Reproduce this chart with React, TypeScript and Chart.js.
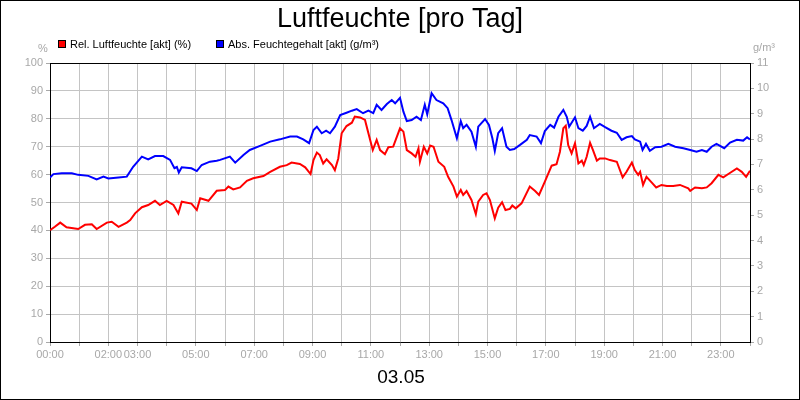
import { useEffect, useRef } from "react";
import { Chart, registerables } from "chart.js";

Chart.register(...registerables);

// minutes since midnight -> value
const relTimes = [
  0, 10, 21, 34, 58, 72, 86, 96, 117, 127, 141, 158, 165, 175, 189, 202, 216, 226, 240, 254, 264, 271,
  291, 302, 309, 326, 343, 360, 367, 377, 391, 405, 418, 439, 453, 473, 487, 497, 514, 525, 536, 542,
  549, 555, 562, 569, 580, 586, 593, 600, 610, 621, 627, 638, 648, 655, 664, 672, 679, 689, 696, 706,
  720, 727, 734, 744, 752, 758, 761, 769, 776, 782, 789, 799, 811, 819, 830, 837, 845, 850, 857, 867,
  876, 881, 891, 898, 905, 915, 922, 930, 937, 946, 951, 958, 970, 987, 998, 1006, 1018, 1032, 1042,
  1049, 1056, 1061, 1066, 1073, 1080, 1087, 1094, 1098, 1104, 1111, 1117, 1125, 1131, 1142, 1152,
  1166, 1178, 1186, 1197, 1203, 1210, 1214, 1220, 1227, 1238, 1247, 1258, 1269, 1282, 1296, 1313,
  1317, 1327, 1341, 1351, 1361, 1375, 1385, 1397, 1413, 1423, 1432, 1440,
];
const relHumidity = [
  40.1, 41.3, 42.8, 41.1, 40.5, 42, 42.2, 40.5, 42.8, 43.1, 41.3, 42.8, 43.7, 46.1, 48.3, 49.1, 50.6,
  49.1, 50.6, 49.1, 46.1, 50.3, 49.6, 47.3, 51.5, 50.6, 54.2, 54.5, 55.7, 54.7, 55.4, 57.8, 58.7, 59.5,
  61.0, 62.8, 63.4, 64.3, 63.8, 62.6, 60.2, 65.2, 67.9, 67.0, 64.0, 65.5, 63.4, 61.6, 65.8, 74.8, 77.4,
  78.6, 80.8, 80.5, 79.6, 74.8, 68.8, 72.4, 68.8, 67.3, 69.8, 70.0, 76.6, 75.4, 68.8, 67.6, 66.4, 69.4,
  64.6, 70.0, 67.6, 70.4, 70.0, 64.6, 62.8, 59.2, 55.7, 52.1, 54.5, 52.7, 54.1, 50.9, 45.8, 50.3, 52.7,
  53.3, 50.9, 44.3, 48.1, 50.1, 47.3, 47.7, 48.9, 47.9, 49.7, 55.7, 54.1, 52.7, 57.5, 63.2, 63.7, 68.2,
  76.6, 77.5, 70.6, 67.6, 71.2, 64.0, 65.0, 63.4, 66.4, 71.4, 68.8, 65.0, 65.8, 65.8, 65.2, 64.6, 59.0,
  61.0, 64.3, 61.6, 59.9, 61.0, 56.3, 59.2, 57.1, 55.4, 56.3, 55.9, 55.9, 56.3, 55.1, 54.2, 55.4, 55.1,
  55.4, 56.9, 59.9, 59.0, 60.4, 62.2, 61.0, 59.2, 61.4,
];

const absTimes = [
  0, 7, 24, 45, 58, 79, 96, 110, 120, 141, 158, 171, 189, 202, 216, 233, 247, 256, 261, 265, 271, 291,
  302, 312, 329, 343, 350, 370, 381, 398, 411, 432, 453, 473, 494, 508, 521, 533, 542, 549, 559, 568,
  576, 586, 597, 610, 621, 631, 644, 655, 665, 672, 682, 693, 703, 710, 720, 727, 734, 744, 754, 763,
  771, 776, 785, 795, 809, 818, 826, 837, 845, 850, 857, 867, 876, 881, 895, 903, 910, 915, 922, 930,
  939, 946, 955, 967, 981, 987, 1001, 1010, 1018, 1029, 1037, 1046, 1056, 1063, 1068, 1080, 1087,
  1096, 1104, 1111, 1119, 1131, 1142, 1155, 1166, 1176, 1186, 1197, 1203, 1214, 1219, 1226, 1234,
  1245, 1258, 1272, 1286, 1303, 1317, 1330, 1341, 1351, 1361, 1371, 1387, 1399, 1413, 1426, 1434, 1440,
];
const absHumidity = [
  6.48, 6.62, 6.65, 6.65, 6.59, 6.55, 6.41, 6.52, 6.45, 6.49, 6.52, 6.91, 7.31, 7.2, 7.33, 7.33, 7.18,
  6.85, 6.9, 6.68, 6.89, 6.85, 6.74, 6.98, 7.11, 7.15, 7.18, 7.31, 7.07, 7.37, 7.57, 7.73, 7.9, 7.99,
  8.1, 8.1, 7.99, 7.84, 8.36, 8.49, 8.23, 8.33, 8.23, 8.49, 8.95, 9.04, 9.12, 9.18, 9.02, 9.12, 9.02,
  9.35, 9.15, 9.38, 9.54, 9.41, 9.63, 9.08, 8.71, 8.75, 8.88, 8.75, 9.35, 8.98, 9.81, 9.54, 9.41, 9.22,
  8.75, 8.03, 8.71, 8.43, 8.56, 8.29, 7.7, 8.49, 8.79, 8.56, 8.03, 7.53, 8.23, 8.43, 7.7, 7.57, 7.61,
  7.77, 7.97, 8.16, 8.1, 7.84, 8.32, 8.56, 8.45, 8.88, 9.15, 8.88, 8.49, 8.86, 8.43, 8.33, 8.52, 8.88,
  8.43, 8.6, 8.47, 8.33, 8.25, 7.97, 8.07, 8.12, 7.99, 7.9, 7.57, 7.81, 7.54, 7.68, 7.7, 7.81, 7.7,
  7.64, 7.57, 7.5, 7.57, 7.5, 7.7, 7.81, 7.64, 7.86, 7.97, 7.94, 8.07, 7.99,
];

const xTickLabels = ["00:00", "02:00", "03:00", "05:00", "07:00", "09:00", "11:00", "13:00", "15:00", "17:00", "19:00", "21:00", "23:00"];
const seriesLabels = ["Rel. Luftfeuchte [akt] (%)", "Abs. Feuchtegehalt [akt] (g/m³)"];
const seriesColors = ["#ff0000", "#0000ff"];
const titleText = "Luftfeuchte [pro Tag]";
const dateText = "03.05";

const FONT = "'Liberation Sans', Arial, sans-serif";
const TICK_GRAY = "#a8a8a8";
const GRID_GRAY = "#c4c4c4";

const decor = {
  id: "decor",
  afterDraw(chart: Chart) {
    const ctx = chart.ctx;
    const { left, right, top, bottom } = chart.chartArea;
    ctx.save();
    // plot frame
    ctx.strokeStyle = "#000";
    ctx.lineWidth = 1;
    ctx.beginPath();
    ctx.moveTo(left, top + 0.5);
    ctx.lineTo(right, top + 0.5);
    ctx.stroke();
    // outer frame
    ctx.strokeRect(0.5, 0.5, chart.width - 1, chart.height - 1);

    ctx.fillStyle = "#000";
    ctx.textBaseline = "alphabetic";
    ctx.textAlign = "center";
    ctx.font = `27px ${FONT}`;
    ctx.fillText(titleText, 400, 27);
    ctx.font = `19px ${FONT}`;
    ctx.fillText(dateText, 401, 383);

    // legend
    ctx.font = `11px ${FONT}`;
    ctx.textAlign = "left";
    const legendX = [58, 216];
    chart.data.datasets.forEach((ds, i) => {
      const x = legendX[i];
      ctx.fillStyle = ds.borderColor as string;
      ctx.fillRect(x, 40, 8, 8);
      ctx.strokeStyle = "#000";
      ctx.strokeRect(x + 0.5, 40.5, 7, 7);
      ctx.fillStyle = "#000";
      ctx.fillText(ds.label as string, x + 12, 48);
    });

    // axis units
    ctx.fillStyle = TICK_GRAY;
    ctx.textAlign = "center";
    ctx.fillText("%", 43, 52);
    ctx.textAlign = "left";
    ctx.fillText("g/m³", 753, 51);
    ctx.restore();
  },
};

export default function App() {
  const canvasRef = useRef<HTMLCanvasElement>(null);

  useEffect(() => {
    document.body.style.margin = "0";
    if (!canvasRef.current) return;
    const tickFont = { family: FONT, size: 11 };
    const chart = new Chart(canvasRef.current, {
      type: "line",
      data: {
        datasets: [
          {
            label: seriesLabels[0],
            data: relTimes.map((t, i) => ({ x: t, y: relHumidity[i] })),
            borderColor: seriesColors[0],
            borderWidth: 2,
            pointRadius: 0,
            tension: 0,
            yAxisID: "y",
          },
          {
            label: seriesLabels[1],
            data: absTimes.map((t, i) => ({ x: t, y: absHumidity[i] })),
            borderColor: seriesColors[1],
            borderWidth: 2,
            pointRadius: 0,
            tension: 0,
            yAxisID: "y1",
          },
        ],
      },
      options: {
        responsive: false,
        animation: false,
        devicePixelRatio: 1,
        layout: { padding: { top: 63, left: 0, right: 0, bottom: 0 } },
        plugins: { legend: { display: false }, tooltip: { enabled: false }, title: { display: false } },
        scales: {
          x: {
            type: "linear",
            min: 0,
            max: 1440,
            afterBuildTicks: (scale: any) => {
              scale.ticks = Array.from({ length: 25 }, (_, h) => ({ value: h * 60 }));
            },
            afterFit: (scale: any) => {
              scale.height = 58;
            },
            ticks: {
              autoSkip: false,
              maxRotation: 0,
              color: TICK_GRAY,
              font: tickFont,
              padding: 2,
              callback: (v: any) => {
                const hh = String(Math.round(Number(v) / 60)).padStart(2, "0") + ":00";
                return xTickLabels.includes(hh) ? hh : "";
              },
            },
            grid: { color: GRID_GRAY, tickColor: TICK_GRAY, tickLength: 4 },
            border: { color: "#000", width: 1 },
          },
          y: {
            position: "left",
            min: 0,
            max: 100,
            afterFit: (scale: any) => {
              scale.width = 50;
            },
            ticks: { stepSize: 10, color: TICK_GRAY, font: tickFont, padding: 3 },
            grid: { color: GRID_GRAY, tickColor: TICK_GRAY, tickLength: 4 },
            border: { color: "#000", width: 1 },
          },
          y1: {
            position: "right",
            min: 0,
            max: 11,
            afterFit: (scale: any) => {
              scale.width = 50;
            },
            ticks: { stepSize: 1, color: TICK_GRAY, font: tickFont, padding: 3 },
            grid: { drawOnChartArea: false, tickColor: TICK_GRAY, tickLength: 4 },
            border: { color: "#000", width: 1 },
          },
        },
      },
      plugins: [decor],
    });
    return () => chart.destroy();
  }, []);

  return (
    <div style={{ position: "absolute", left: 0, top: 0, width: 800, height: 400, background: "#fff" }}>
      <canvas ref={canvasRef} width={800} height={400} />
    </div>
  );
}
